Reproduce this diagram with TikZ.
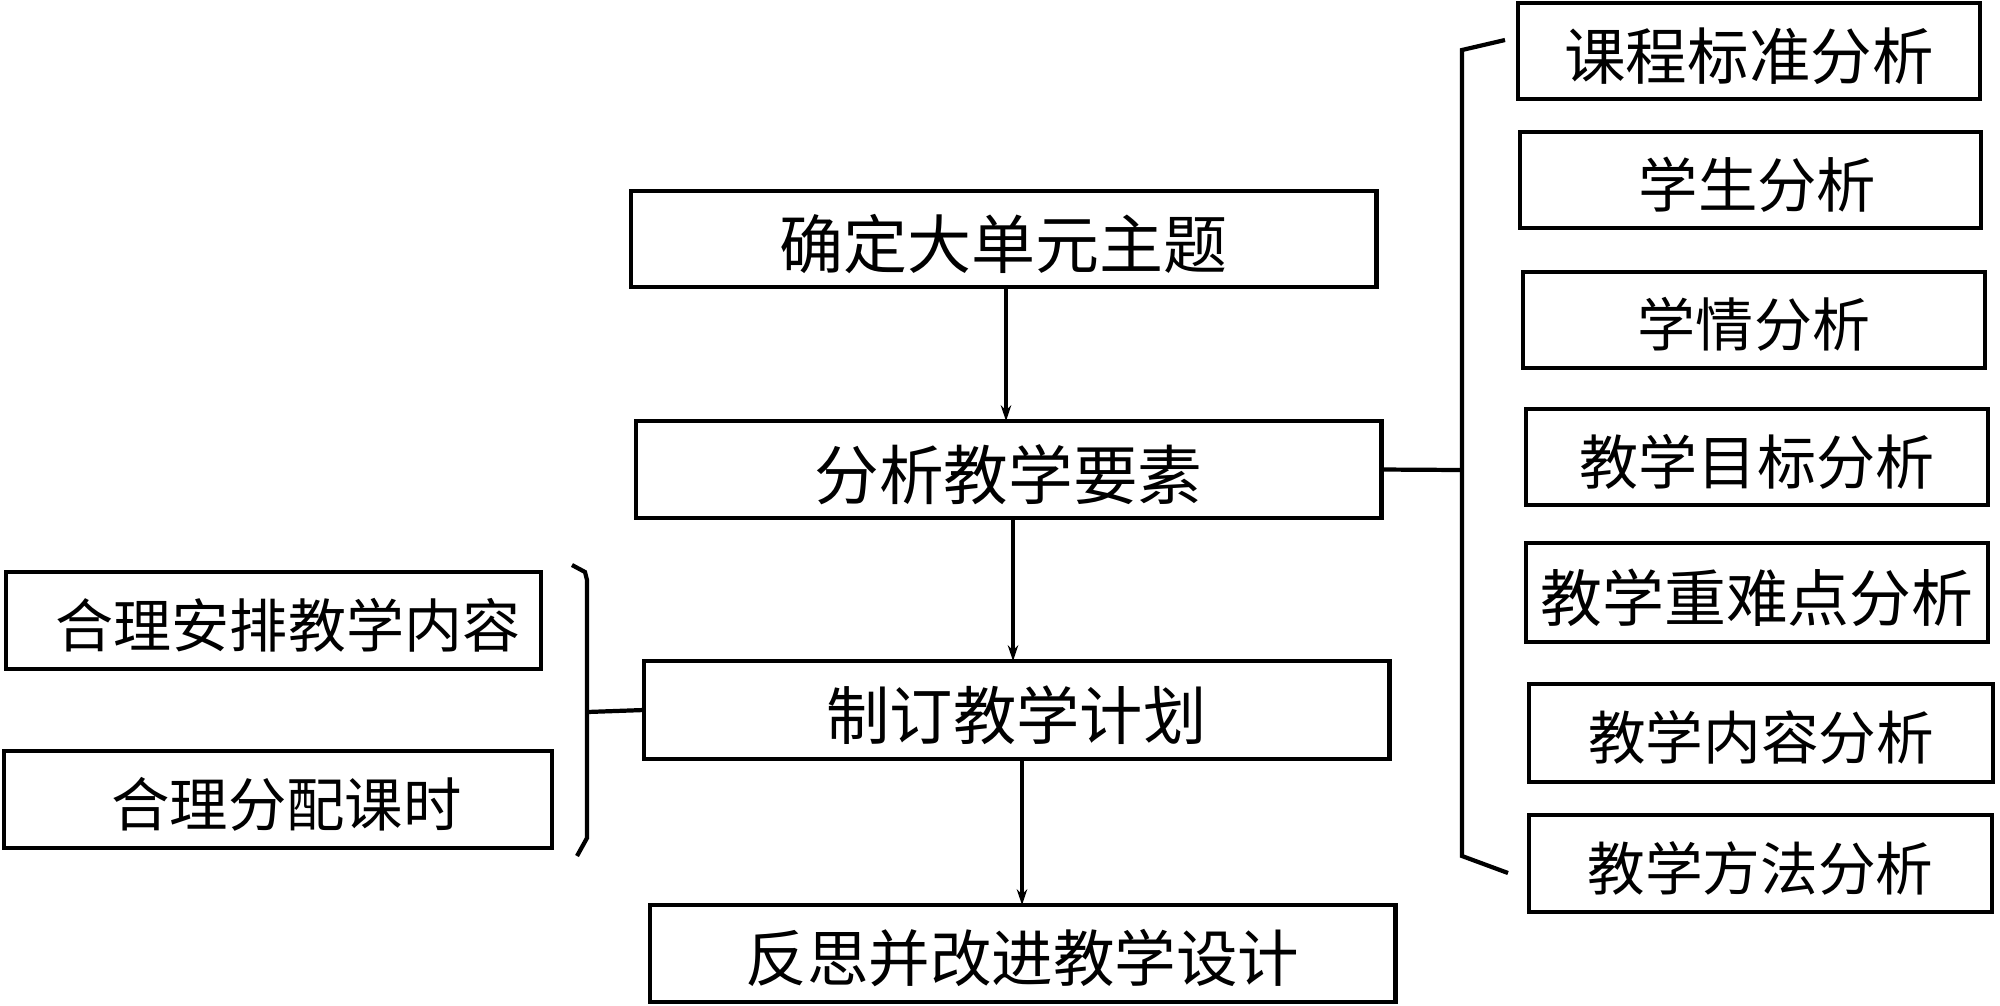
\documentclass[tikz,border=0pt]{standalone}
\usepackage{fontspec}
\newfontfamily\cjk{Noto Sans CJK SC}
\usetikzlibrary{arrows.meta}
\begin{document}
\begin{tikzpicture}[x=0.01cm,y=-0.01cm,
  box/.style={draw,line width=1.3pt,inner sep=0pt,outer sep=0pt,text depth=0.4pt},
  fs/.style n args={2}{font=\cjk\fontsize{#1}{20pt}\selectfont,text height=#2},
  arr/.style={line width=0.9pt,-{Stealth[length=4.5pt,width=3pt]}},
  brk/.style={line width=1.2pt}]
\useasboundingbox (0,0) rectangle (2000,1005);
% main column
\node[box,fs={18.2pt}{17.2pt},minimum width=7.45cm,minimum height=0.96cm] (b1) at (1003.5,239) {确定大单元主题};
\node[box,fs={18.4pt}{17.4pt},minimum width=7.45cm,minimum height=0.97cm] (b2) at (1008.5,469.5) {分析教学要素};
\node[box,fs={18pt}{17pt},minimum width=7.45cm,minimum height=0.98cm] (b3) at (1016.5,710) {制订教学计划};
\node[box,fs={17.5pt}{16.5pt},minimum width=7.45cm,minimum height=0.97cm] (b4) at (1022.5,953.5) {反思并改进教学设计};
% right column
\node[box,fs={17.5pt}{16.5pt},minimum width=4.62cm,minimum height=0.96cm] (r1) at (1749,51) {课程标准分析};
\node[box,fs={16.9pt}{16pt},minimum width=4.61cm,minimum height=0.96cm] (r2) at (1750.5,180) {\hspace*{0.14cm}学生分析};
\node[box,fs={16.5pt}{15.6pt},minimum width=4.62cm,minimum height=0.96cm] (r3) at (1754,320) {学情分析};
\node[box,fs={16.8pt}{15.9pt},minimum width=4.62cm,minimum height=0.96cm] (r4) at (1757,457) {教学目标分析};
\node[box,fs={17.6pt}{16.6pt},minimum width=4.62cm,minimum height=0.99cm] (r5) at (1757,592.5) {教学重难点分析};
\node[box,fs={16.4pt}{15.5pt},minimum width=4.64cm,minimum height=0.98cm] (r6) at (1761,733) {教学内容分析};
\node[box,fs={16.4pt}{15.5pt},minimum width=4.63cm,minimum height=0.97cm] (r7) at (1760.5,863.5) {教学方法分析};
% left column
\node[box,fs={16.5pt}{15.6pt},minimum width=5.35cm,minimum height=0.97cm] (l1) at (273.5,620.5) {\hspace*{0.29cm}合理安排教学内容};
\node[box,fs={16.6pt}{15.7pt},minimum width=5.48cm,minimum height=0.97cm] (l2) at (278,799.5) {\hspace*{0.17cm}合理分配课时};
% arrows
\draw[arr] ([xshift=0.025cm]b1.south) -- ([xshift=0.025cm]b1.south |- b2.north);
\draw[arr] ([xshift=0.045cm]b2.south) -- ([xshift=0.045cm]b2.south |- b3.north);
\draw[arr] ([xshift=0.055cm]b3.south) -- ([xshift=0.055cm]b3.south |- b4.north);
% right bracket
\coordinate (rj) at (1462,470);
\coordinate (rt) at (1462,50);
\coordinate (rb) at (1462,856);
\coordinate (rtt) at (1505,40);
\coordinate (rbt) at (1508,873);
\draw[brk] (b2.east) -- (rj);
\draw[brk] (rtt) -- (rt) -- (rb) -- (rbt);
% left bracket
\coordinate (lj) at (587,712);
\coordinate (lt) at (572,565);
\coordinate (lb) at (577,856);
\draw[brk] (b3.west) -- (lj);
\draw[brk] (lt) -- (585,572) -- (587,580) -- (587,838) -- (lb);
\end{tikzpicture}
\end{document}
